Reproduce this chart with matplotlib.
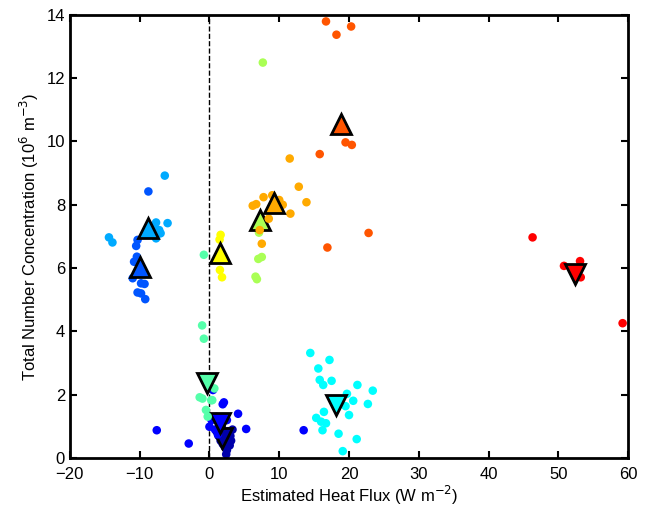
import numpy as np
import matplotlib
matplotlib.use("Agg")
import matplotlib.pyplot as plt

plt.rcParams['font.family'] = ['Liberation Sans', 'DejaVu Sans']

# group colours (jet-like)
colors = ['#0000AA', '#0000FF', '#0055FF', '#00AAFF', '#00FFFF', '#55FFAA',
          '#AAFF55', '#FFFF00', '#FFAA00', '#FF5500', '#FF0000']

# individual samples per group (heat flux, concentration)
x_pts = [
    [1.0, 1.3, 1.6, 1.9, 2.2, 2.5, 2.4, 2.9, 3.1, 3.0, 2.7, 1.8, 2.1, 3.3],
    [-7.55, -2.97, 13.5, 5.26, 4.1, 1.9, 2.07, 0.5, 0.0, 0.3, 1.0, 2.5, 0.8, 1.2],
    [-8.75, -10.3, -10.5, -10.4, -10.8, -11.0, -9.8, -9.3, -10.3, -9.8, -9.2, -10.0],
    [-6.4, -14.4, -13.9, -7.65, -6.0, -7.2, -7.65, -7.0, -7.9],
    [14.45, 17.2, 15.6, 15.8, 16.3, 17.5, 21.2, 23.4, 19.7, 20.6, 22.7, 19.5,
     16.4, 20.0, 15.3, 16.0, 16.7, 16.2, 18.5, 21.1, 19.1],
    [-0.8, -1.05, -0.8, -1.4, 0.25, 0.7, -0.5, -0.25, 0.4, -1.0],
    [7.65, 7.1, 7.5, 6.6, 6.8, 7.0],
    [1.6, 1.45, 1.5, 1.8, 1.5],
    [11.5, 12.8, 13.9, 11.6, 7.75, 6.2, 6.7, 10.0, 8.5, 7.5, 7.2, 10.5, 9.0],
    [16.7, 20.3, 18.2, 19.5, 20.4, 15.8, 22.8, 16.9],
    [46.3, 50.8, 53.1, 53.2, 59.2],
]
y_pts = [
    [0.85, 0.7, 0.55, 0.45, 0.35, 0.25, 0.12, 0.4, 0.55, 0.7, 0.85, 0.95, 0.65, 0.9],
    [0.88, 0.46, 0.88, 0.92, 1.4, 1.7, 1.76, 2.15, 0.99, 1.2, 1.3, 1.2, 0.9, 0.75],
    [8.42, 6.89, 6.7, 6.36, 6.2, 5.68, 5.52, 5.5, 5.23, 5.2, 5.02, 6.05],
    [8.92, 6.97, 6.81, 7.44, 7.42, 7.2, 6.94, 7.1, 7.3],
    [3.32, 3.1, 2.83, 2.47, 2.31, 2.44, 2.31, 2.13, 2.03, 1.81, 1.71, 1.64,
     1.46, 1.36, 1.27, 1.15, 1.1, 0.88, 0.77, 0.6, 0.22],
    [6.42, 4.19, 3.77, 1.92, 1.83, 2.2, 1.52, 1.31, 1.83, 1.88],
    [12.49, 7.12, 6.35, 5.73, 5.65, 6.29],
    [7.05, 6.9, 5.94, 5.71, 6.3],
    [9.46, 8.57, 8.08, 7.72, 8.24, 7.97, 8.02, 8.15, 7.56, 6.77, 7.2, 8.0, 8.3],
    [13.79, 13.63, 13.37, 9.97, 9.89, 9.6, 7.11, 6.65],
    [6.97, 6.07, 6.22, 5.71, 4.26],
]

# group means (triangles)
x_mean = [1.8, 1.45, -10.0, -8.85, 18.2, -0.4, 7.2, 1.5, 9.3, 18.8, 52.4]
y_mean = [0.62, 1.1, 6.05, 7.26, 1.68, 2.36, 7.52, 6.47, 8.05, 10.55, 5.8]
markers = ['v', 'v', '^', '^', 'v', 'v', '^', '^', '^', '^', 'v']

fig = plt.figure(figsize=(6.53, 5.09), dpi=100)
ax = fig.add_axes([0.107, 0.100, 0.855, 0.871])

ax.plot([0, 0], [0, 14], 'k--', lw=1, zorder=1)

for i in range(len(colors)):
    ax.scatter(x_pts[i], y_pts[i], s=38, c=colors[i], edgecolors='none', zorder=2 + 2 * i)
    ax.plot(x_mean[i], y_mean[i], marker=markers[i], ms=15, mfc=colors[i],
            mec='k', mew=2, ls='none', zorder=3 + 2 * i)

ax.set_xlim(-20, 60)
ax.set_ylim(0, 14)
ax.set_xticks(np.arange(-20, 61, 10))
ax.set_yticks(np.arange(0, 15, 2))
ax.tick_params(direction='in', top=True, right=True, length=5, width=1.5,
               labelsize=12)
ax.tick_params(axis='x', pad=6.5)
for sp in ax.spines.values():
    sp.set_linewidth(2)

ax.set_xlabel('Estimated Heat Flux (W m$^{-2}$)', fontsize=12, labelpad=1)
ax.set_ylabel('Total Number Concentration (10$^{6}$ m$^{-3}$)', fontsize=12)

fig.savefig('out.png', dpi=100)
